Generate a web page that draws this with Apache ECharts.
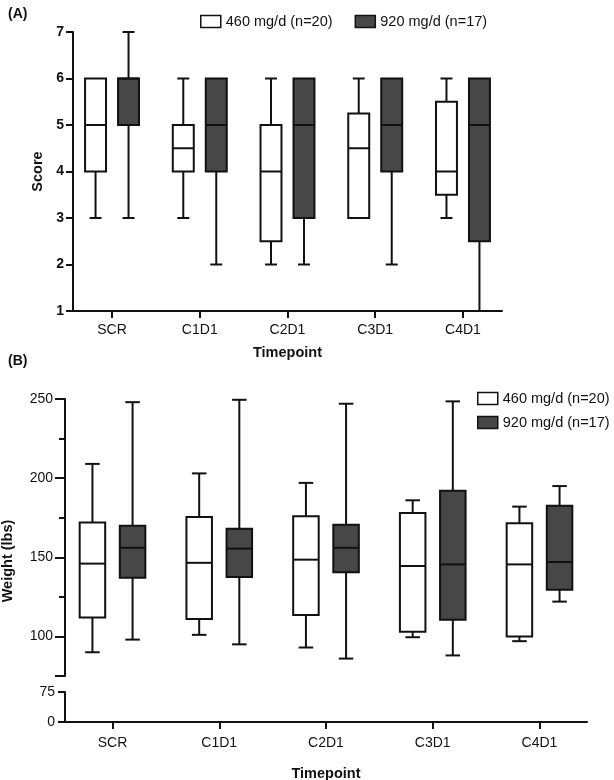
<!DOCTYPE html>
<html>
<head>
<meta charset="utf-8">
<script src="https://cdn.jsdelivr.net/npm/echarts@6/dist/echarts.min.js"></script>
<style>
html,body{margin:0;padding:0;background:#fff;}
#c{width:614px;height:780px;}
</style>
</head>
<body>
<div id="c"></div>
<script>
// ---- data ----
const timepoints = ['SCR', 'C1D1', 'C2D1', 'C3D1', 'C4D1'];
const groupNames = ['460 mg/d (n=20)', '920 mg/d (n=17)'];
// Panel A: Score  [min, Q1, median, Q3, max]
const score460 = [
  [3, 4, 5, 6, 6],
  [3, 4, 4.5, 5, 6],
  [2, 2.5, 4, 5, 6],
  [3, 3, 4.5, 5.25, 6],
  [3, 3.5, 4, 5.5, 6]
];
const score920 = [
  [3, 5, 6, 6, 7],
  [2, 4, 5, 6, 6],
  [2, 3, 5, 6, 6],
  [2, 4, 5, 6, 6],
  [1, 2.5, 5, 6, 6]
];
// Panel B: Weight (lbs) [min, Q1, median, Q3, max]
const weight460 = [
  [90, 112, 146, 172, 209],
  [101, 111, 146.5, 175.5, 203],
  [93, 113.5, 148.5, 176, 197],
  [99.5, 103, 144.5, 178, 186],
  [97, 100, 145.5, 171.5, 182]
];
const weight920 = [
  [98, 137, 156, 170, 248],
  [95, 137.5, 155.5, 168, 249.5],
  [86, 140.5, 156, 170.5, 247],
  [88, 110.5, 145.5, 192, 248.5],
  [122, 129.5, 147, 182.5, 195]
];
const scoreTicks = [1, 2, 3, 4, 5, 6, 7];
const weightMajorTicks = [75, 100, 150, 200, 250];
const weightLabels = [100, 150, 200, 250];
const weightMinorTicks = [125, 175, 225];

// ---- styling ----
const FONT = '"Liberation Sans", Arial, sans-serif';
const INK = '#111';
const DARK = '#474747';
const BOX_W = 0.239;   // in category units
const OFFSET = 0.188;  // in category units
const CAP_FRAC = 0.57;

function toData(arr) {
  return arr.map((d, i) => [i].concat(d));
}

function boxRenderer(offset, fill) {
  return function (params, api) {
    const cx = api.value(0) + offset;
    const pMin = api.coord([cx, api.value(1)]);
    const pQ1 = api.coord([cx, api.value(2)]);
    const pMed = api.coord([cx, api.value(3)]);
    const pQ3 = api.coord([cx, api.value(4)]);
    const pMax = api.coord([cx, api.value(5)]);
    const hw = api.size([BOX_W, 0])[0] / 2;
    const cw = hw * CAP_FRAC;
    const x = pMin[0];
    const ls = { stroke: INK, lineWidth: 2, fill: null };
    const children = [];
    if (Math.abs(pMax[1] - pQ3[1]) > 0.5) {
      children.push({ type: 'line', shape: { x1: x, y1: pMax[1], x2: x, y2: pQ3[1] }, style: ls });
      children.push({ type: 'line', shape: { x1: x - cw, y1: pMax[1], x2: x + cw, y2: pMax[1] }, style: ls });
    }
    if (Math.abs(pMin[1] - pQ1[1]) > 0.5) {
      children.push({ type: 'line', shape: { x1: x, y1: pQ1[1], x2: x, y2: pMin[1] }, style: ls });
      children.push({ type: 'line', shape: { x1: x - cw, y1: pMin[1], x2: x + cw, y2: pMin[1] }, style: ls });
    }
    children.push({
      type: 'rect',
      shape: { x: x - hw, y: pQ3[1], width: hw * 2, height: pQ1[1] - pQ3[1] },
      style: { fill: fill, stroke: INK, lineWidth: 2 }
    });
    children.push({ type: 'line', shape: { x1: x - hw, y1: pMed[1], x2: x + hw, y2: pMed[1] }, style: ls });
    return { type: 'group', children: children };
  };
}

const axisLineStyle = { color: INK, width: 2 };
const catIdx = timepoints.map((_, i) => i);
const tickFont = 14;

function catXAxis(gridIndex, opts) {
  return Object.assign({
    type: 'value', gridIndex: gridIndex, min: -0.445, max: 4.445,
    splitLine: { show: false },
    axisLine: { show: true, lineStyle: axisLineStyle, onZero: false },
    axisTick: { show: true, customValues: catIdx, length: 7, lineStyle: { color: INK, width: 2 } },
    axisLabel: { show: true, customValues: catIdx, formatter: v => timepoints[Math.round(v)] || '',
      color: INK, fontFamily: FONT, fontSize: tickFont, margin: 12 },
    nameLocation: 'middle',
    nameTextStyle: { color: INK, fontFamily: FONT, fontSize: 14.5, fontWeight: 'bold' }
  }, opts || {});
}

const legendItems = [
  { name: groupNames[0], icon: 'rect', itemStyle: { color: '#fff', borderColor: INK, borderWidth: 1.5 } },
  { name: groupNames[1], icon: 'rect', itemStyle: { color: DARK, borderColor: INK, borderWidth: 1.5 } }
];
const legendText = { color: INK, fontFamily: FONT, fontSize: 14.5 };

const option = {
  backgroundColor: '#fff',
  animation: false,
  title: [
    { text: '(A)', left: 3, top: 2, textStyle: { fontFamily: FONT, fontSize: 14, fontWeight: 'bold', color: INK } },
    { text: '(B)', left: 3, top: 349, textStyle: { fontFamily: FONT, fontSize: 14, fontWeight: 'bold', color: INK } }
  ],
  legend: [
    { data: legendItems, left: 195, top: 9, itemWidth: 20, itemHeight: 12, itemGap: 22, textStyle: legendText, selectedMode: false },
    { data: legendItems, orient: 'vertical', left: 472, top: 386, itemWidth: 20, itemHeight: 12, itemGap: 9, textStyle: legendText, selectedMode: false }
  ],
  grid: [
    { left: 73, width: 429, top: 32, height: 279, outerBoundsMode: 'none', containLabel: false },
    { left: 65, width: 522, top: 399, height: 277, outerBoundsMode: 'none', containLabel: false },
    { left: 65, width: 522, top: 692, height: 30, outerBoundsMode: 'none', containLabel: false }
  ],
  xAxis: [
    catXAxis(0, { name: 'Timepoint', nameGap: 34 }),
    catXAxis(1, { show: false }),
    catXAxis(2, { name: 'Timepoint', nameGap: 44, axisLabel: { show: true, customValues: catIdx,
      formatter: v => timepoints[Math.round(v)] || '', color: INK, fontFamily: FONT, fontSize: tickFont, margin: 14 } })
  ],
  yAxis: [
    {
      type: 'value', gridIndex: 0, min: 1, max: 7, interval: 1, position: 'left',
      splitLine: { show: false },
      axisLine: { show: true, onZero: false, lineStyle: axisLineStyle },
      axisTick: { show: true, customValues: scoreTicks, length: 7, lineStyle: { color: INK, width: 2 } },
      axisLabel: { customValues: scoreTicks, color: INK, fontFamily: FONT, fontSize: 14, fontWeight: 'bold', margin: 9 },
      name: 'Score', nameLocation: 'middle', nameGap: 22,
      nameTextStyle: { color: INK, fontFamily: FONT, fontSize: 14.5, fontWeight: 'bold' }
    },
    {
      type: 'value', gridIndex: 1, min: 75, max: 250, position: 'left',
      splitLine: { show: false },
      axisLine: { show: true, onZero: false, lineStyle: axisLineStyle },
      axisTick: { show: true, customValues: weightMajorTicks, length: 10, lineStyle: { color: INK, width: 2 } },
      axisLabel: { customValues: weightLabels, color: INK, fontFamily: FONT, fontSize: tickFont, margin: 12 }
    },
    {
      type: 'value', gridIndex: 1, min: 75, max: 250, position: 'left', offset: 0,
      splitLine: { show: false },
      axisLine: { show: false, onZero: false },
      axisTick: { show: true, customValues: weightMinorTicks, length: 6, lineStyle: { color: INK, width: 2 } },
      axisLabel: { show: false }
    },
    {
      type: 'value', gridIndex: 2, min: 0, max: 75, interval: 75, position: 'left',
      splitLine: { show: false },
      axisLine: { show: true, onZero: false, lineStyle: axisLineStyle },
      axisTick: { show: true, length: 7, lineStyle: { color: INK, width: 2 } },
      axisLabel: { color: INK, fontFamily: FONT, fontSize: tickFont, margin: 10 }
    }
  ],
  graphic: [
    {
      type: 'text', x: 8, y: 561, rotation: Math.PI / 2,
      style: { text: 'Weight (lbs)', fill: INK, font: 'bold 14.5px ' + FONT, align: 'center', verticalAlign: 'middle' }
    }
  ],
  series: [
    { name: groupNames[0], type: 'custom', xAxisIndex: 0, yAxisIndex: 0, data: toData(score460),
      itemStyle: { color: '#fff', borderColor: INK }, renderItem: boxRenderer(-OFFSET, '#fff'),
      encode: { x: 0, y: [1, 2, 3, 4, 5] } },
    { name: groupNames[1], type: 'custom', xAxisIndex: 0, yAxisIndex: 0, data: toData(score920),
      itemStyle: { color: DARK, borderColor: INK }, renderItem: boxRenderer(OFFSET, DARK),
      encode: { x: 0, y: [1, 2, 3, 4, 5] } },
    { name: groupNames[0], type: 'custom', xAxisIndex: 1, yAxisIndex: 1, data: toData(weight460),
      itemStyle: { color: '#fff', borderColor: INK }, renderItem: boxRenderer(-OFFSET, '#fff'),
      encode: { x: 0, y: [1, 2, 3, 4, 5] } },
    { name: groupNames[1], type: 'custom', xAxisIndex: 1, yAxisIndex: 1, data: toData(weight920),
      itemStyle: { color: DARK, borderColor: INK }, renderItem: boxRenderer(OFFSET, DARK),
      encode: { x: 0, y: [1, 2, 3, 4, 5] } }
  ]
};

const chart = echarts.init(document.getElementById('c'), null, { renderer: 'canvas' });
chart.setOption(option);
</script>
</body>
</html>
